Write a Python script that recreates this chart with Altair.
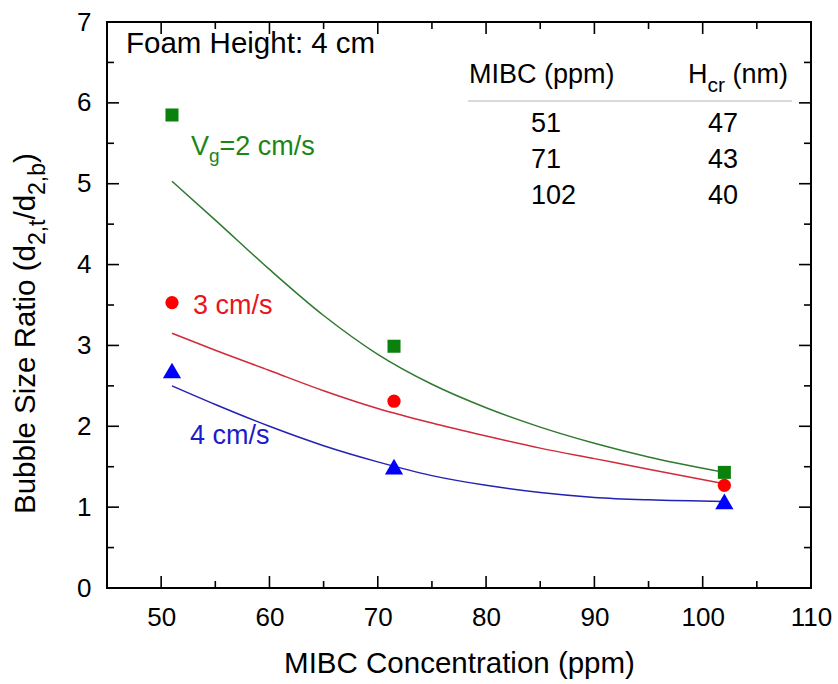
import altair as alt
import pandas as pd

# Measured bubble size ratios at three MIBC concentrations
conc = [51, 71.5, 102]
ratio_2 = [5.85, 2.99, 1.43]
ratio_3 = [3.53, 2.31, 1.27]
ratio_4 = [2.69, 1.50, 1.07]

# Fitted trend curves
fit_conc = [51, 55, 60, 65, 70, 75, 80, 85, 90, 95, 102]
fit_2 = [5.03, 4.55, 3.94, 3.37, 2.89, 2.52, 2.23, 1.99, 1.79, 1.62, 1.43]
fit_3 = [3.15, 2.94, 2.69, 2.44, 2.22, 2.04, 1.88, 1.73, 1.60, 1.47, 1.29]
fit_4 = [2.50, 2.27, 2.00, 1.76, 1.56, 1.39, 1.27, 1.18, 1.12, 1.09, 1.07]

# Inset table: MIBC (ppm) vs critical film thickness (nm)
table_mibc = ["51", "71", "102"]
table_hcr = ["47", "43", "40"]

# Axis ticks
x_major = [50, 60, 70, 80, 90, 100, 110]
x_minor = [55, 65, 75, 85, 95, 105]
y_major = [0, 1, 2, 3, 4, 5, 6, 7]
y_minor = [0.5, 1.5, 2.5, 3.5, 4.5, 5.5, 6.5]

W, H = 704, 566
FONT = "Liberation Sans, Arial, sans-serif"

xs = alt.Scale(domain=[45, 110], nice=False, zero=False)
ys = alt.Scale(domain=[0, 7], nice=False, zero=False)

x_axis = alt.Axis(
    values=x_major, ticks=False, domain=False, grid=False, labelFlush=False,
    labelFontSize=26, labelFont=FONT, labelColor="black", labelPadding=16,
    title="MIBC Concentration (ppm)", titleFontSize=29.5, titleFont=FONT,
    titleFontWeight="normal", titleColor="black",
    titleBaseline="alphabetic", titleY=84,
)
y_axis = alt.Axis(
    values=y_major, ticks=False, domain=False, grid=False, labelFlush=False,
    labelFontSize=26, labelFont=FONT, labelColor="black", labelPadding=16,
    title="",
)


def X(field="x"):
    return alt.X(f"{field}:Q", scale=xs, axis=x_axis, title="MIBC Concentration (ppm)")


def Y(field="y"):
    return alt.Y(f"{field}:Q", scale=ys, axis=y_axis, title="")


# (fit values, measured values, line colour, marker colour, marker shape, marker size)
series = [
    (fit_2, ratio_2, "#2f7a2f", "#0b800b", "square", 170),
    (fit_3, ratio_3, "#d22a3a", "#ff0000", "circle", 175),
    (fit_4, ratio_4, "#2222b4", "#0000ff", "triangle-up", 330),
]

data_layers = []
for fit, meas, lcol, pcol, shape, size in series:
    data_layers.append(
        alt.Chart(pd.DataFrame({"x": fit_conc, "y": fit}))
        .mark_line(strokeWidth=1.5, interpolate="monotone", color=lcol)
        .encode(x=X(), y=Y())
    )
for fit, meas, lcol, pcol, shape, size in series:
    data_layers.append(
        alt.Chart(pd.DataFrame({"x": conc, "y": meas}))
        .mark_point(filled=True, opacity=1, strokeWidth=0, shape=shape, size=size, fill=pcol)
        .encode(x=X(), y=Y())
    )


def xticks(vals, length):
    d = pd.DataFrame({"x": vals})
    bottom = alt.Chart(d).mark_rule(color="black", strokeWidth=1.6).encode(
        x=X(), y=alt.value(H), y2=alt.value(H - length))
    top = alt.Chart(d).mark_rule(color="black", strokeWidth=1.6).encode(
        x=X(), y=alt.value(0), y2=alt.value(length))
    return [bottom, top]


def yticks(vals, length):
    d = pd.DataFrame({"y": vals})
    left = alt.Chart(d).mark_rule(color="black", strokeWidth=1.6).encode(
        y=Y(), x=alt.value(0), x2=alt.value(length))
    right = alt.Chart(d).mark_rule(color="black", strokeWidth=1.6).encode(
        y=Y(), x=alt.value(W), x2=alt.value(W - length))
    return [left, right]


# Approximate Arial advance widths (em) used to place text runs side by side
ADV = {
    " ": .278, "(": .333, ")": .333, ",": .278, "/": .278, "=": .584, ":": .278,
    "0": .556, "1": .556, "2": .556, "3": .556, "4": .556, "5": .556,
    "B": .667, "C": .722, "H": .722, "I": .278, "M": .833, "R": .722, "S": .667,
    "V": .667, "F": .611,
    "a": .556, "b": .556, "c": .5, "d": .556, "e": .556, "g": .556, "h": .556,
    "i": .222, "l": .222, "m": .833, "n": .556, "o": .556, "p": .556, "r": .333,
    "s": .5, "t": .278, "u": .556, "z": .5,
}


def width(text, size):
    return sum(ADV.get(c, .556) for c in text) * size


_one = pd.DataFrame({"k": [0]})


def label(text, x, y, size, color="black", angle=0):
    kw = dict(text=text, fontSize=size, font=FONT, color=color,
              align="left", baseline="alphabetic")
    if angle:
        kw["angle"] = angle
    return alt.Chart(_one).mark_text(**kw).encode(x=alt.value(x), y=alt.value(y))


def runs(parts, x, y, color="black"):
    """Horizontal text made of (text, size, baseline shift) runs.
    Leading spaces are turned into an offset, since SVG drops them."""
    out = []
    cx = x
    for text, size, dy in parts:
        stripped = text.lstrip(" ")
        cx += width(text[: len(text) - len(stripped)], size)
        out.append(label(stripped, cx, y + dy, size, color))
        cx += width(stripped, size)
    return out


def vruns(parts, x, y, color="black"):
    """Text rotated to read bottom-to-top, made of (text, size, shift) runs."""
    out = []
    cy = y
    for text, size, dx in parts:
        out.append(label(text, x + dx, cy, size, color, angle=270))
        cy -= width(text, size)
    return out


annotations = []
annotations.append(label("Foam Height: 4 cm", 19, 31, 29.5))
annotations += runs([("V", 27, 0), ("g", 19, 7), ("=2 cm/s", 27, 0)], 84, 133, "#1a861a")
annotations.append(label("3 cm/s", 86, 292, 27, "#e8141e"))
annotations.append(label("4 cm/s", 83, 422, 27, "#1c1cc8"))

# inset table
annotations.append(label("MIBC (ppm)", 362, 61, 27))
annotations += runs([("H", 27, 0), ("cr", 21, 9), (" (nm)", 27, 0)], 581, 61)
annotations.append(
    alt.Chart(_one).mark_rule(color="#b4b4b4", strokeWidth=1).encode(
        x=alt.value(361), x2=alt.value(685), y=alt.value(79))
)
for i, (a, b) in enumerate(zip(table_mibc, table_hcr)):
    annotations.append(label(a, 424, 110 + 36 * i, 27))
    annotations.append(label(b, 601, 110 + 36 * i, 27))

# y-axis title with subscripts
annotations += vruns(
    [("Bubble Size Ratio (d", 29.5, 0), ("2,t", 23, 10), ("/d", 29.5, 0),
     ("2,b", 23, 10), (")", 29.5, 0)],
    -72, 492,
)

layers = list(data_layers)
layers += xticks(x_major, 12) + xticks(x_minor, 7)
layers += yticks(y_major, 12) + yticks(y_minor, 7)
layers += annotations

chart = alt.layer(*layers).properties(
    width=W, height=H,
    autosize="none",
    padding={"left": 107, "top": 22, "right": 27, "bottom": 96},
    background="white",
).configure_view(stroke="black", strokeWidth=2)

chart.save("out.html", embed_options={"renderer": "svg", "actions": False})
